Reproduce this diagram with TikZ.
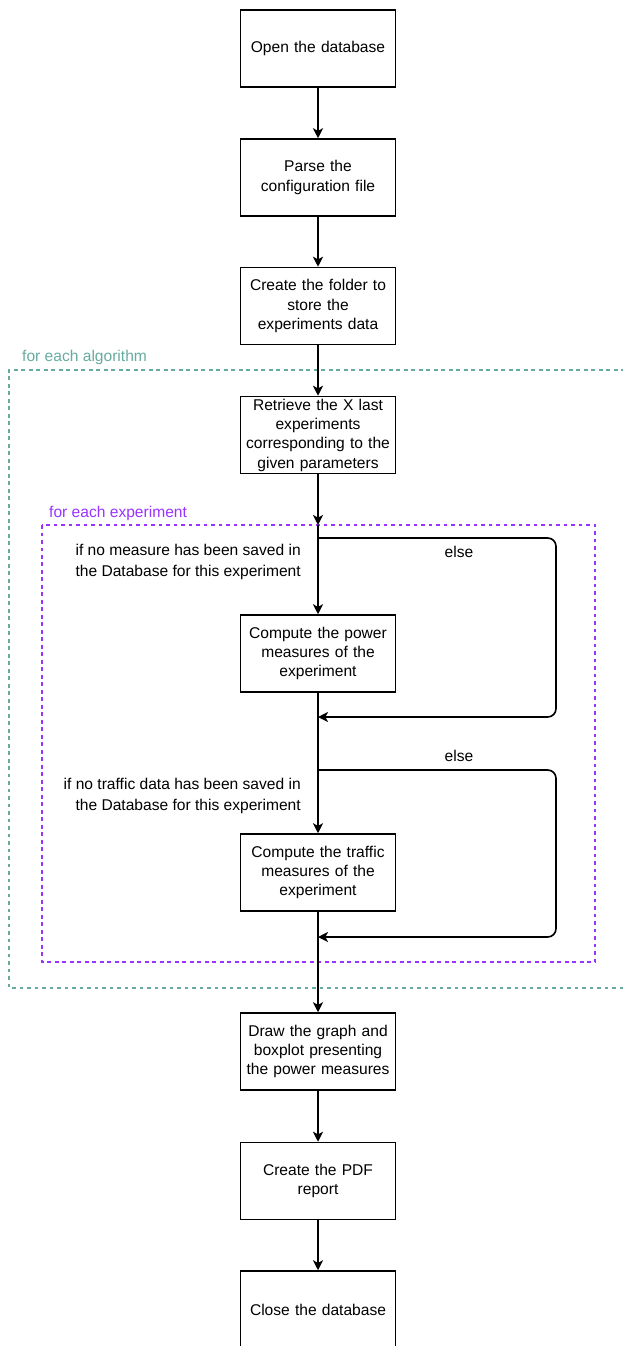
\documentclass[tikz,border=0pt]{standalone}
\usepackage{fontspec}
\setmainfont{Liberation Sans}
\usetikzlibrary{arrows.meta,calc}
\definecolor{algocolor}{RGB}{103,171,159}
\definecolor{expcolor}{RGB}{153,51,255}
\tikzset{
  stepbox/.style={draw, line width=1.3pt, minimum width=4.65cm, minimum height=2.31cm,
    text width=4.5cm, align=center, inner sep=0pt, font=\fontsize{13.3}{16.5}\selectfont},
  flowln/.style={-{Stealth[length=3mm,width=3mm,inset=0.8mm]}, line width=1.4pt},
  plainln/.style={line width=1.4pt},
  condtxt/.style={align=right, anchor=east, inner sep=0pt, font=\fontsize{13.3}{17.5}\selectfont},
  looptxt/.style={inner sep=0pt, font=\fontsize{13.3}{16.5}\selectfont},
  framealgo/.style={algocolor, dash pattern=on 3.2pt off 3.2pt, line width=1.2pt},
  frameexp/.style={expcolor, dash pattern=on 3.2pt off 3.2pt, line width=1.2pt},
  framelbl/.style={anchor=west, inner sep=0pt, font=\fontsize{13.3}{16.5}\selectfont},
}

\begin{document}
\begin{tikzpicture}[x=0.03cm, y=-0.03cm]
    \useasboundingbox (0,0) rectangle (623,1346);
    % loop frames
    \draw[framealgo] (640,370) -- (9,370) -- (9,988) -- (640,988);
    \node[framelbl, algocolor] (algolbl) at (22,357) {for each algorithm};
    \draw[frameexp] (42,525) rectangle (595,962);
    \node[framelbl, expcolor] (explbl) at (49,513) {for each experiment};
    % steps
    \node[stepbox] (opendb) at (318,48.5) {Open the database};
    \node[stepbox] (parse) at (318,177.5) {Parse the\\configuration file};
    \node[stepbox] (folder) at (318,306) {Create the folder to\\store the\\experiments data};
    \node[stepbox] (retrieve) at (318,435) {Retrieve the X last\\experiments\\corresponding to the\\given parameters};
    \node[stepbox] (power) at (318,653.5) {Compute the power\\measures of the\\experiment};
    \node[stepbox] (traffic) at (318,872.5) {Compute the traffic\\measures of the\\experiment};
    \node[stepbox] (graph) at (318,1051.5) {Draw the graph and\\boxplot presenting\\the power measures};
    \node[stepbox] (report) at (318,1181) {Create the PDF\\report};
    \node[stepbox] (closedb) at (318,1309.5) {Close the database};
    % branch and merge points
    \coordinate (expin) at (318,525);
    \coordinate (br1) at (318,538);
    \coordinate (mg1) at (318,717);
    \coordinate (br2) at (318,770);
    \coordinate (mg2) at (318,937);
    \coordinate (loopx) at (556,0);
    % conditions
    \node[condtxt] (cond1) at (301,562) {if no measure has been saved in\\the Database for this experiment};
    \node[condtxt] (cond2) at (301,796) {if no traffic data has been saved in\\the Database for this experiment};
    \node[looptxt] (else1) at (459,552) {else};
    \node[looptxt] (else2) at (459,756) {else};
    % main flow
    \draw[flowln] (opendb) -- (parse);
    \draw[flowln] (parse) -- (folder);
    \draw[flowln] (folder) -- (retrieve);
    \draw[flowln] (retrieve) -- (expin);
    \draw[flowln] (expin) -- (power);
    \draw[plainln] (power) -- (br2);
    \draw[flowln] (br2) -- (traffic);
    \draw[flowln] (traffic) -- (graph);
    \draw[flowln] (graph) -- (report);
    \draw[flowln] (report) -- (closedb);
    % else branches
    \draw[flowln, rounded corners=0.25cm] (br1) -- (br1 -| loopx) -- (mg1 -| loopx) -- (mg1);
    \draw[flowln, rounded corners=0.25cm] (br2) -- (br2 -| loopx) -- (mg2 -| loopx) -- (mg2);
\end{tikzpicture}
\end{document}
